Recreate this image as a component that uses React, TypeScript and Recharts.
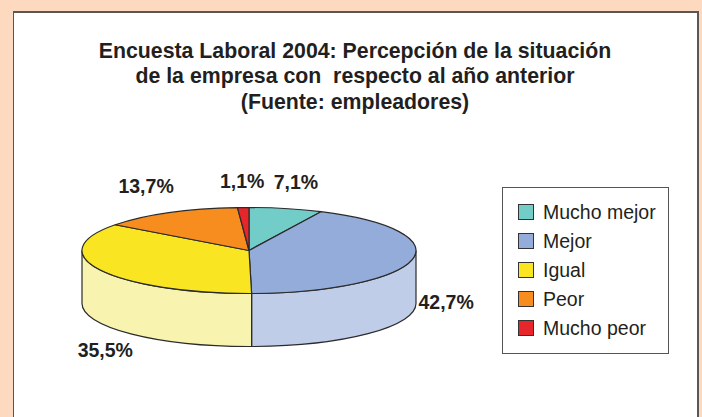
import { PieChart, Pie, Legend } from 'recharts';

const categorias = ['Mucho mejor', 'Mejor', 'Igual', 'Peor', 'Mucho peor'];
const valores = [7.1, 42.7, 35.5, 13.7, 1.1];
const colores = ['#72cdc9', '#94acd9', '#f9e522', '#f78d1f', '#e6262b'];
const coloresLado = ['#72cdc9', '#bfcde9', '#f8f3ae', '#f78d1f', '#e6262b'];
const titulo = [
  'Encuesta Laboral 2004: Percepción de la situación',
  'de la empresa con  respecto al año anterior',
  '(Fuente: empleadores)',
];

const datos = categorias.map((name, i) => ({
  name,
  value: valores[i],
  fill: colores[i],
  lado: coloresLado[i],
}));

// desplazamiento de cada etiqueta desde el borde de la elipse
const offsetEtiquetas = [
  [10, -27],
  [34, 42],
  [5, 80],
  [-23, -27],
  [-1, -27],
];

const FONT = '"Liberation Sans", Arial, sans-serif';
const TEXTO = '#231f20';
const LINEA = '#2b2b2b';
const ACHATADO = 43 / 167; // pastel visto en perspectiva
const ALTO = 53;

const rad = (a: number) => (a * Math.PI) / 180;

// Sector elíptico con su pared lateral
function Sector3D(props: any) {
  const { cx, cy, outerRadius, startAngle, endAngle, payload } = props;
  const rx = outerRadius;
  const ry = outerRadius * ACHATADO;
  const px = (a: number) => cx + rx * Math.cos(rad(a));
  const py = (a: number) => cy - ry * Math.sin(rad(a));
  const grande = Math.abs(endAngle - startAngle) > 180 ? 1 : 0;

  const a1 = Math.min(startAngle, 0);
  const a2 = Math.max(endAngle, -180);

  return (
    <g>
      {a1 > a2 && (
        <path
          d={`M${px(a1)},${py(a1)} A${rx},${ry} 0 0 1 ${px(a2)},${py(a2)} L${px(a2)},${py(a2) + ALTO} A${rx},${ry} 0 0 0 ${px(a1)},${py(a1) + ALTO} Z`}
          fill={payload.lado}
          stroke={LINEA}
          strokeWidth={1.2}
        />
      )}
      <path
        d={`M${cx},${cy} L${px(startAngle)},${py(startAngle)} A${rx},${ry} 0 ${grande} 1 ${px(endAngle)},${py(endAngle)} Z`}
        fill={payload.fill}
        stroke={LINEA}
        strokeWidth={1.2}
        strokeLinejoin="round"
      />
    </g>
  );
}

function Etiqueta(props: any) {
  const { cx, cy, outerRadius, midAngle, index, value } = props;
  const x = cx + outerRadius * Math.cos(rad(midAngle)) + offsetEtiquetas[index][0];
  const y = cy - outerRadius * ACHATADO * Math.sin(rad(midAngle)) + offsetEtiquetas[index][1];
  return (
    <text
      x={x}
      y={y}
      textAnchor="middle"
      dominantBaseline="central"
      fontFamily={FONT}
      fontWeight="bold"
      fontSize={19.5}
      fill={TEXTO}
    >
      {value.toFixed(1).replace('.', ',')}%
    </text>
  );
}

function Leyenda() {
  return (
    <div
      style={{
        boxSizing: 'border-box',
        width: 167,
        height: 167,
        border: '1.5px solid #555',
        background: '#fff',
        padding: '10.5px 0 0 15px',
        fontFamily: FONT,
        fontSize: 19.5,
        color: TEXTO,
      }}
    >
      {categorias.map((c, i) => (
        <div key={c} style={{ display: 'flex', alignItems: 'center', height: 28.9 }}>
          <span
            style={{
              boxSizing: 'border-box',
              width: 16,
              height: 16,
              marginRight: 9,
              background: colores[i],
              border: '1px solid #333',
            }}
          />
          {c}
        </div>
      ))}
    </div>
  );
}

export default function App() {
  return (
    <div style={{ position: 'absolute', left: 0, top: 0, width: 702, height: 417, background: '#fdd9c0', overflow: 'hidden' }}>
      <div
        style={{
          position: 'absolute',
          left: 13,
          top: 11,
          width: 686,
          height: 420,
          boxSizing: 'border-box',
          background: '#fff',
          border: '2px solid #5a5654',
          borderLeftWidth: 1.5,
        }}
      />
      <div
        style={{
          position: 'absolute',
          left: 0,
          top: 38.5,
          width: 710,
          textAlign: 'center',
          fontFamily: FONT,
          fontWeight: 'bold',
          fontSize: 21.3,
          lineHeight: '25.5px',
          color: TEXTO,
          whiteSpace: 'pre',
        }}
      >
        {titulo.map((t) => (
          <div key={t}>{t}</div>
        ))}
      </div>
      <div style={{ position: 'absolute', left: 0, top: 0 }}>
        <PieChart width={702} height={417} margin={{ top: 0, right: 0, bottom: 0, left: 0 }}>
          <Pie
            data={datos}
            dataKey="value"
            nameKey="name"
            cx={249}
            cy={250.5}
            outerRadius={167}
            startAngle={90}
            endAngle={-270}
            paddingAngle={0}
            isAnimationActive={false}
            shape={Sector3D}
            label={Etiqueta}
            labelLine={false}
          />
          <Legend
            content={<Leyenda />}
            wrapperStyle={{ position: 'absolute', left: 502, top: 186.5, width: 167, height: 167 }}
          />
        </PieChart>
      </div>
    </div>
  );
}
